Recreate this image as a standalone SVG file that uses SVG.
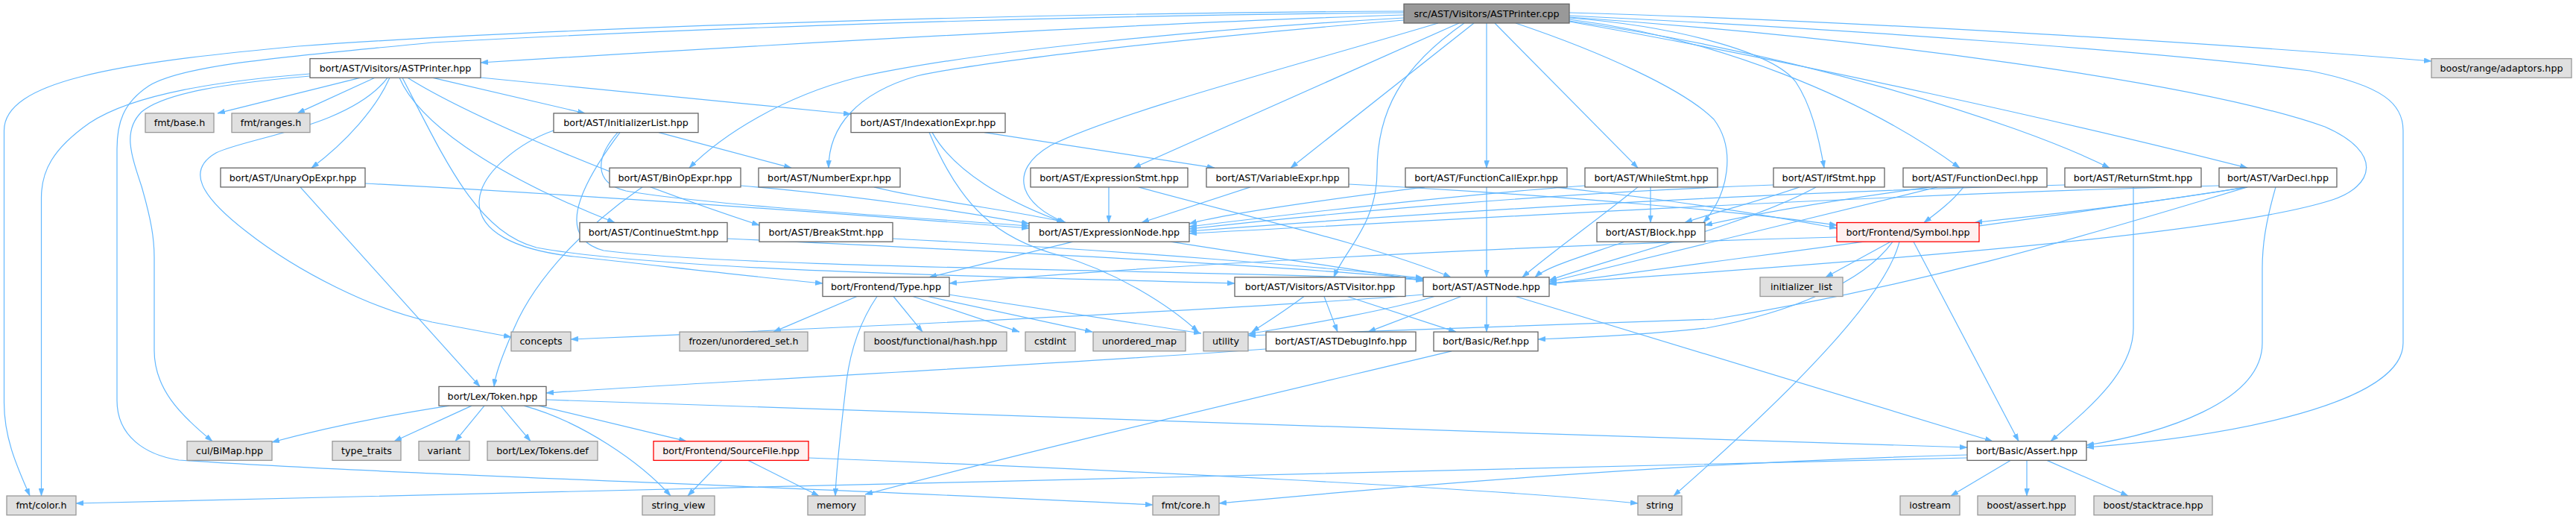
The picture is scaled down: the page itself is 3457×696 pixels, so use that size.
<svg xmlns="http://www.w3.org/2000/svg" width="3457" height="696" viewBox="0 0 3457 696">
<style>
text{font-family:"DejaVu Sans","Liberation Sans",sans-serif;font-size:12.7px;text-anchor:middle;fill:#000}
.n rect{fill:#fff;stroke:#666;stroke-width:1.3}
.g rect{fill:#e0e0e0;stroke:#999;stroke-width:1.3}
.r rect{fill:#fff0f0;stroke:#f00;stroke-width:1.3}
.t rect{fill:#999;stroke:#666;stroke-width:1.3}
#edges path{fill:none;stroke:#63b8ff;stroke-width:1.2;marker-end:url(#a)}
</style>
<defs>
<marker id="a" viewBox="0 0 10 7" refX="10" refY="3.5" markerWidth="10" markerHeight="7" orient="auto" markerUnits="userSpaceOnUse"><path d="M0,0 L10,3.5 L0,7 z" fill="#63b8ff" stroke="#63b8ff" stroke-width="0.5"/></marker>
</defs>
<rect width="3457" height="696" fill="#fff"/>
<g id="edges">
<path d="M1884,20 C1500,32 1000,62 645,84"/>
<path d="M1884,15 C1300,18 700,40 400,62 C150,85 5.5,110 5.5,175 L5.5,540 C5.5,590 25,630 40,665"/>
<path d="M1884,17 C1300,22 800,45 580,57 C400,75 250,85 200,115 C165,138 157,165 157,200 L157,537 C157,585 195,610 240,617 C500,635 1000,650 1547,677"/>
<path d="M1884,24 C1600,40 1300,70 1150,104 C1050,130 970,180 925,225.2"/>
<path d="M1884,27 C1600,50 1320,82 1230,102 C1150,125 1112,170 1112,225.2"/>
<path d="M1930,31 C1750,85 1500,150 1410,195 C1350,230 1370,275 1430,298.5"/>
<path d="M1958,31 L1521,225.2"/>
<path d="M1965,31 C1880,90 1848,150 1848,230 C1848,300 1805,335 1790,371.8"/>
<path d="M1978,31 L1732,225.2"/>
<path d="M1995,31 L1995,225.2"/>
<path d="M2006,31 L2198,225.2"/>
<path d="M2034,31 C2150,70 2260,120 2300,160 C2330,200 2320,260 2286,298.5"/>
<path d="M2106,24 C2250,35 2380,70 2410,110 C2430,140 2440,180 2448,225.2"/>
<path d="M2106,26 C2300,50 2500,130 2630,225.2"/>
<path d="M2106,28 C2400,70 2700,160 2831,225.2"/>
<path d="M2106,29 C2400,80 2800,170 3016,225.2"/>
<path d="M2106,17 C2500,28 3000,60 3263,82"/>
<path d="M2106,21 C2500,40 2900,70 3100,95 C3200,115 3225,140 3225,175 L3225,460 C3225,540 3000,585 2800,600"/>
<path d="M2106,23 C2500,50 2950,110 3120,170 C3200,205 3185,250 3130,268 C3000,310 2600,345 2079,380"/>
<path d="M483,104.3 L292,151.9"/>
<path d="M503,104.3 L399,151.9"/>
<path d="M523,104.3 C505,145 465,190 418,225.2"/>
<path d="M520,104.3 C470,170 330,185 290,205 C250,228 268,262 330,310 C400,365 500,415 580,432 L686,452"/>
<path d="M416,99 C300,108 180,125 120,165 C70,200 55.5,230 55.5,265 L55.5,665"/>
<path d="M416,102 C300,112 220,125 190,150 C165,175 175,205 190,250 C203,295 207,320 207,345 L207,470 C207,520 240,555 285,591.7"/>
<path d="M581,104.3 L785,151.9"/>
<path d="M645,104 L1142,153"/>
<path d="M536,104.3 C560,160 650,230 825,298.5"/>
<path d="M547,104.3 C620,150 800,230 1019,302"/>
<path d="M540,104.3 C600,220 640,310 720,332 C900,365 1400,372 1657,380"/>
<path d="M884,177.6 L1062,225.2"/>
<path d="M743,175 C700,190 645,230 643,270 C642,310 690,335 770,344 C900,358 1000,370 1104,380"/>
<path d="M829,177.6 C800,210 795,245 840,256 C950,275 1200,290 1381,303"/>
<path d="M832,177.6 C770,260 750,320 810,336 C1000,360 1600,362 1910,375"/>
<path d="M1321,177.6 L1630,225.2"/>
<path d="M1251,177.6 C1280,230 1350,270 1428,298.5"/>
<path d="M1247,177.6 C1290,280 1340,320 1420,342 C1500,365 1570,410 1608,445.1"/>
<path d="M490,246 C800,262 1200,292 1381,306"/>
<path d="M403,250.9 L644,518.4"/>
<path d="M994,249 C1150,262 1300,285 1381,300"/>
<path d="M862,250.9 C790,300 720,370 690,440 C675,475 665,500 663,518.4"/>
<path d="M1173,250.9 C1250,270 1380,285 1430,298.5"/>
<path d="M1488,250.9 L1488,298.5"/>
<path d="M1528,250.9 C1650,285 1850,330 1947,371.8"/>
<path d="M1678,250.9 L1532,298.5"/>
<path d="M1810,247 C2100,262 2350,285 2465,302"/>
<path d="M1912,250.9 C1800,265 1650,285 1596,300"/>
<path d="M1995,250.9 L1995,371.8"/>
<path d="M2085,250.9 C2250,268 2380,290 2465,306"/>
<path d="M2127,249 C1950,262 1750,285 1596,304"/>
<path d="M2215,250.9 L2215,298.5"/>
<path d="M2198,250.9 C2150,290 2080,340 2043,371.8"/>
<path d="M2380,248 C2100,258 1800,284 1596,307"/>
<path d="M2415,250.9 C2360,270 2300,285 2261,298.5"/>
<path d="M2437,250.9 C2350,300 2150,350 2079,376"/>
<path d="M2590,250.9 C2450,270 2350,288 2288,302"/>
<path d="M2635,250.9 C2620,270 2600,285 2582,298.5"/>
<path d="M2600,250.9 C2400,300 2200,350 2079,378"/>
<path d="M2771,248 C2300,260 1900,287 1596,310"/>
<path d="M2863,250.9 L2863,440 C2863,500 2800,550 2752,591.7"/>
<path d="M2978,249 C2500,262 2000,292 1596,313"/>
<path d="M3015,250.9 C2900,270 2750,288 2650,298.5"/>
<path d="M3016,250.9 C2700,300 2300,350 2079,381"/>
<path d="M3054,250.9 C3040,300 3036,330 3036,360 L3036,460 C3036,540 2900,582 2800,597"/>
<path d="M3016,250.9 C2850,300 2600,380 2300,428 C2000,440 1800,446 1675,450"/>
<path d="M976,320 C1300,335 1700,355 1910,374"/>
<path d="M1198,320 C1500,335 1800,360 1910,373"/>
<path d="M1440,324.2 L1247,371.8"/>
<path d="M1571,324.2 C1700,345 1850,365 1910,377"/>
<path d="M2180,324.2 C2120,345 2075,358 2060,371.8"/>
<path d="M2465,318 C2000,330 1500,360 1274,380"/>
<path d="M2537,324.2 L2450,371.8"/>
<path d="M2549,324.2 C2530,400 2400,530 2246,665"/>
<path d="M2568,324.2 L2709,591.7"/>
<path d="M2540,324.2 C2500,380 2400,420 2290,440 C2200,450 2120,453 2064,455"/>
<path d="M1150,397.5 L1038,445.1"/>
<path d="M1199,397.5 L1238,445.1"/>
<path d="M1225,397.5 L1368,445.1"/>
<path d="M1245,397.5 L1466,445.1"/>
<path d="M1273,395 L1612,447"/>
<path d="M1177,397.5 C1155,430 1140,470 1135,520 C1128,580 1122,630 1121,665"/>
<path d="M1777,397.5 L1795,445.1"/>
<path d="M1808,397.5 L1954,445.1"/>
<path d="M1750,397.5 C1720,420 1700,432 1680,445.1"/>
<path d="M1961,397.5 L1836,445.1"/>
<path d="M1995,397.5 L1995,445.1"/>
<path d="M2034,397.5 L2674,591.7"/>
<path d="M1910,395 C1600,420 1000,445 766,455"/>
<path d="M1925,397.5 C1850,420 1720,440 1675,448"/>
<path d="M1699,468 C1400,490 900,515 733,527"/>
<path d="M1948,470.8 C1700,530 1400,600 1161,663"/>
<path d="M603,544.1 C500,560 420,578 365,593"/>
<path d="M633,544.1 L529,591.7"/>
<path d="M650,544.1 L611,591.7"/>
<path d="M672,544.1 L712,591.7"/>
<path d="M723,544.1 L921,591.7"/>
<path d="M703,544.1 C780,565 860,620 900,665"/>
<path d="M733,536 C1200,548 2000,582 2640,600"/>
<path d="M969,617.4 L923,665"/>
<path d="M1004,617.4 L1099,665"/>
<path d="M1085,614 C1500,630 2000,655 2198,675"/>
<path d="M2698,617.4 L2618,665"/>
<path d="M2720,617.4 L2720,665"/>
<path d="M2747,617.4 L2856,665"/>
<path d="M2640,610 C2200,622 1800,660 1636,675"/>
<path d="M2640,614 C2000,628 800,660 102,675"/>
</g>
<g id="n0" class="t"><rect x="1884" y="5.3" width="222" height="25.7"/><text x="1995" y="22.6">src/AST/Visitors/ASTPrinter.cpp</text></g>
<g id="n1" class="n"><rect x="416" y="78.6" width="229" height="25.7"/><text x="530.5" y="95.9">bort/AST/Visitors/ASTPrinter.hpp</text></g>
<g id="n2" class="g"><rect x="3263" y="78.6" width="188" height="25.7"/><text x="3357" y="95.9">boost/range/adaptors.hpp</text></g>
<g id="n3" class="g"><rect x="195" y="151.9" width="92" height="25.7"/><text x="241" y="169.2">fmt/base.h</text></g>
<g id="n4" class="g"><rect x="311" y="151.9" width="105" height="25.7"/><text x="363.5" y="169.2">fmt/ranges.h</text></g>
<g id="n5" class="n"><rect x="743" y="151.9" width="194" height="25.7"/><text x="840" y="169.2">bort/AST/InitializerList.hpp</text></g>
<g id="n6" class="n"><rect x="1142" y="151.9" width="207" height="25.7"/><text x="1245.5" y="169.2">bort/AST/IndexationExpr.hpp</text></g>
<g id="n7" class="n"><rect x="296" y="225.2" width="194" height="25.7"/><text x="393" y="242.5">bort/AST/UnaryOpExpr.hpp</text></g>
<g id="n8" class="n"><rect x="818" y="225.2" width="176" height="25.7"/><text x="906" y="242.5">bort/AST/BinOpExpr.hpp</text></g>
<g id="n9" class="n"><rect x="1018" y="225.2" width="190" height="25.7"/><text x="1113" y="242.5">bort/AST/NumberExpr.hpp</text></g>
<g id="n10" class="n"><rect x="1383" y="225.2" width="211" height="25.7"/><text x="1488.5" y="242.5">bort/AST/ExpressionStmt.hpp</text></g>
<g id="n11" class="n"><rect x="1619" y="225.2" width="191" height="25.7"/><text x="1714.5" y="242.5">bort/AST/VariableExpr.hpp</text></g>
<g id="n12" class="n"><rect x="1886" y="225.2" width="217" height="25.7"/><text x="1994.5" y="242.5">bort/AST/FunctionCallExpr.hpp</text></g>
<g id="n13" class="n"><rect x="2127" y="225.2" width="178" height="25.7"/><text x="2216" y="242.5">bort/AST/WhileStmt.hpp</text></g>
<g id="n14" class="n"><rect x="2380" y="225.2" width="149" height="25.7"/><text x="2454.5" y="242.5">bort/AST/IfStmt.hpp</text></g>
<g id="n15" class="n"><rect x="2554" y="225.2" width="193" height="25.7"/><text x="2650.5" y="242.5">bort/AST/FunctionDecl.hpp</text></g>
<g id="n16" class="n"><rect x="2771" y="225.2" width="183" height="25.7"/><text x="2862.5" y="242.5">bort/AST/ReturnStmt.hpp</text></g>
<g id="n17" class="n"><rect x="2978" y="225.2" width="158" height="25.7"/><text x="3057" y="242.5">bort/AST/VarDecl.hpp</text></g>
<g id="n18" class="n"><rect x="778" y="298.5" width="198" height="25.7"/><text x="877" y="315.8">bort/AST/ContinueStmt.hpp</text></g>
<g id="n19" class="n"><rect x="1019" y="298.5" width="179" height="25.7"/><text x="1108.5" y="315.8">bort/AST/BreakStmt.hpp</text></g>
<g id="n20" class="n"><rect x="1381" y="298.5" width="215" height="25.7"/><text x="1488.5" y="315.8">bort/AST/ExpressionNode.hpp</text></g>
<g id="n21" class="n"><rect x="2143" y="298.5" width="145" height="25.7"/><text x="2215.5" y="315.8">bort/AST/Block.hpp</text></g>
<g id="n22" class="r"><rect x="2465" y="298.5" width="191" height="25.7"/><text x="2560.5" y="315.8">bort/Frontend/Symbol.hpp</text></g>
<g id="n23" class="n"><rect x="1104" y="371.8" width="170" height="25.7"/><text x="1189" y="389.1">bort/Frontend/Type.hpp</text></g>
<g id="n24" class="n"><rect x="1657" y="371.8" width="229" height="25.7"/><text x="1771.5" y="389.1">bort/AST/Visitors/ASTVisitor.hpp</text></g>
<g id="n25" class="n"><rect x="1910" y="371.8" width="169" height="25.7"/><text x="1994.5" y="389.1">bort/AST/ASTNode.hpp</text></g>
<g id="n26" class="g"><rect x="2362" y="371.8" width="111" height="25.7"/><text x="2417.5" y="389.1">initializer_list</text></g>
<g id="n27" class="g"><rect x="686" y="445.1" width="80" height="25.7"/><text x="726" y="462.4">concepts</text></g>
<g id="n28" class="g"><rect x="912" y="445.1" width="172" height="25.7"/><text x="998" y="462.4">frozen/unordered_set.h</text></g>
<g id="n29" class="g"><rect x="1160" y="445.1" width="191" height="25.7"/><text x="1255.5" y="462.4">boost/functional/hash.hpp</text></g>
<g id="n30" class="g"><rect x="1376" y="445.1" width="67" height="25.7"/><text x="1409.5" y="462.4">cstdint</text></g>
<g id="n31" class="g"><rect x="1467" y="445.1" width="124" height="25.7"/><text x="1529" y="462.4">unordered_map</text></g>
<g id="n32" class="g"><rect x="1615" y="445.1" width="60" height="25.7"/><text x="1645" y="462.4">utility</text></g>
<g id="n33" class="n"><rect x="1699" y="445.1" width="201" height="25.7"/><text x="1799.5" y="462.4">bort/AST/ASTDebugInfo.hpp</text></g>
<g id="n34" class="n"><rect x="1924" y="445.1" width="140" height="25.7"/><text x="1994" y="462.4">bort/Basic/Ref.hpp</text></g>
<g id="n35" class="n"><rect x="589" y="518.4" width="144" height="25.7"/><text x="661" y="535.7">bort/Lex/Token.hpp</text></g>
<g id="n36" class="g"><rect x="251" y="591.7" width="114" height="25.7"/><text x="308" y="609">cul/BiMap.hpp</text></g>
<g id="n37" class="g"><rect x="446" y="591.7" width="92" height="25.7"/><text x="492" y="609">type_traits</text></g>
<g id="n38" class="g"><rect x="562" y="591.7" width="68" height="25.7"/><text x="596" y="609">variant</text></g>
<g id="n39" class="g"><rect x="654" y="591.7" width="148" height="25.7"/><text x="728" y="609">bort/Lex/Tokens.def</text></g>
<g id="n40" class="r"><rect x="877" y="591.7" width="208" height="25.7"/><text x="981" y="609">bort/Frontend/SourceFile.hpp</text></g>
<g id="n41" class="n"><rect x="2640" y="591.7" width="160" height="25.7"/><text x="2720" y="609">bort/Basic/Assert.hpp</text></g>
<g id="n42" class="g"><rect x="9" y="665" width="93" height="25.7"/><text x="55.5" y="682.3">fmt/color.h</text></g>
<g id="n43" class="g"><rect x="862" y="665" width="97" height="25.7"/><text x="910.5" y="682.3">string_view</text></g>
<g id="n44" class="g"><rect x="1084" y="665" width="77" height="25.7"/><text x="1122.5" y="682.3">memory</text></g>
<g id="n45" class="g"><rect x="1547" y="665" width="89" height="25.7"/><text x="1591.5" y="682.3">fmt/core.h</text></g>
<g id="n46" class="g"><rect x="2198" y="665" width="59" height="25.7"/><text x="2227.5" y="682.3">string</text></g>
<g id="n47" class="g"><rect x="2550" y="665" width="80" height="25.7"/><text x="2590" y="682.3">iostream</text></g>
<g id="n48" class="g"><rect x="2654" y="665" width="131" height="25.7"/><text x="2719.5" y="682.3">boost/assert.hpp</text></g>
<g id="n49" class="g"><rect x="2810" y="665" width="159" height="25.7"/><text x="2889.5" y="682.3">boost/stacktrace.hpp</text></g>
</svg>
